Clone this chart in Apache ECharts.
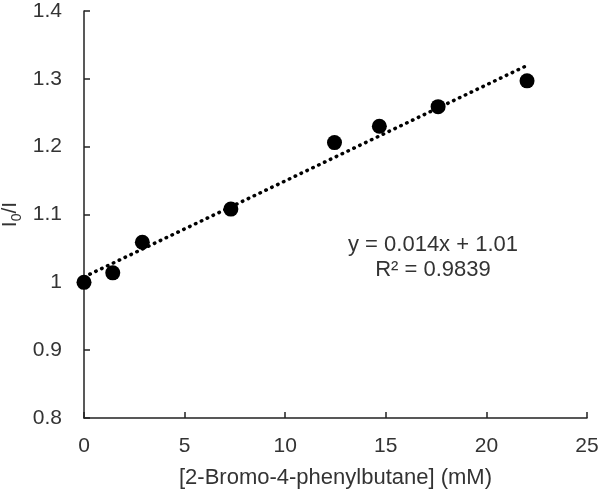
<!DOCTYPE html>
<html>
<head>
<meta charset="utf-8">
<script src="https://cdn.jsdelivr.net/npm/echarts@6/dist/echarts.min.js"></script>
<style>html,body{margin:0;padding:0;background:#fff;}#c{width:600px;height:496px;}</style>
</head>
<body>
<div id="c"></div>
<script>
const concentration = [0, 1.43, 2.9, 7.3, 12.45, 14.68, 17.6, 22.02];
const ratio = [1.0, 1.014, 1.059, 1.108, 1.206, 1.230, 1.259, 1.297];
const xTicks = [0, 5, 10, 15, 20, 25];
const yTicks = [0.8, 0.9, 1.0, 1.1, 1.2, 1.3, 1.4];
const equationLines = ['y = 0.014x + 1.01', 'R² = 0.9839'];

// least-squares linear trendline from the data
const n = concentration.length;
const mx = concentration.reduce((a, b) => a + b, 0) / n;
const my = ratio.reduce((a, b) => a + b, 0) / n;
let sxy = 0, sxx = 0;
for (let i = 0; i < n; i++) { sxy += (concentration[i] - mx) * (ratio[i] - my); sxx += (concentration[i] - mx) ** 2; }
const slope = sxy / sxx, intercept = my - slope * mx;
const xEnd = Math.max(...concentration);
const trend = [[0, intercept], [xEnd, intercept + slope * xEnd]];

const font = 'Liberation Sans, Arial, sans-serif';
const textColor = '#333';
const axisColor = '#222';
const fs = 21;
const chart = echarts.init(document.getElementById('c'), null, {renderer: 'canvas'});
chart.setOption({
  animation: false,
  backgroundColor: '#fff',
  grid: {left: 84, right: 13, top: 11, bottom: 78, containLabel: false, outerBoundsMode: 'none'},
  xAxis: {
    type: 'value', min: 0, max: 25, interval: 5,
    name: '[2-Bromo-4-phenylbutane] (mM)', nameLocation: 'middle', nameGap: 49, nameMoveOverlap: false,
    nameTextStyle: {fontFamily: font, fontSize: 22, color: textColor},
    axisLine: {show: true, lineStyle: {color: axisColor, width: 1.5}},
    axisTick: {show: true, inside: true, length: 6, lineStyle: {color: axisColor, width: 1.5}},
    axisLabel: {fontFamily: font, fontSize: fs, color: textColor, margin: 18,
      formatter: v => xTicks.includes(v) ? String(v) : ''},
    splitLine: {show: false}
  },
  yAxis: {
    type: 'value', min: 0.8, max: 1.4, interval: 0.1,
    name: '{a|I}{s|0}{a|/I}', nameLocation: 'middle', nameGap: 60, nameRotate: 90, nameMoveOverlap: false,
    nameTextStyle: {rich: {
      a: {fontFamily: font, fontSize: fs, color: textColor, lineHeight: 24, verticalAlign: 'top'},
      s: {fontFamily: font, fontSize: 14, color: textColor, lineHeight: 24, verticalAlign: 'bottom'}
    }},
    axisLine: {show: true, lineStyle: {color: axisColor, width: 1.5}},
    axisTick: {show: true, inside: true, length: 6, lineStyle: {color: axisColor, width: 1.5}},
    axisLabel: {fontFamily: font, fontSize: fs, color: textColor, margin: 22,
      formatter: v => { const t = yTicks.find(y => Math.abs(y - v) < 1e-6); return t === undefined ? '' : (t === 1 ? '1' : t.toFixed(1)); }},
    splitLine: {show: false}
  },
  series: [
    {
      type: 'line', data: trend, showSymbol: false, symbol: 'none', silent: true,
      lineStyle: {color: '#000', width: 3.5, type: [0.5, 6], cap: 'round'},
      z: 2
    },
    {
      type: 'scatter', data: concentration.map((x, i) => [x, ratio[i]]),
      symbol: 'circle', symbolSize: 15,
      itemStyle: {color: '#000', opacity: 1}, z: 3
    }
  ],
  graphic: [
    {type: 'text', x: 433, y: 245, style: {text: equationLines[0], fontFamily: font, fontSize: 22, fill: textColor, align: 'center', verticalAlign: 'middle'}},
    {type: 'text', x: 433, y: 270, style: {text: equationLines[1], fontFamily: font, fontSize: 22, fill: textColor, align: 'center', verticalAlign: 'middle'}}
  ]
});
</script>
</body>
</html>
